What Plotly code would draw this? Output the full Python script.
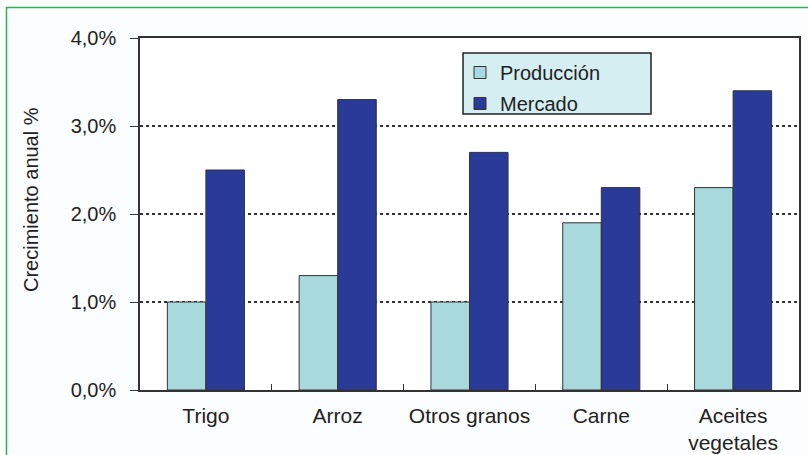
import plotly.graph_objects as go

categories = ["Trigo", "Arroz", "Otros granos", "Carne", "Aceites<br>vegetales"]
produccion = [1.0, 1.3, 1.0, 1.9, 2.3]
mercado = [2.5, 3.3, 2.7, 2.3, 3.4]
tick_vals = [0, 1, 2, 3, 4]
tick_text = ["0,0%", "1,0%", "2,0%", "3,0%", "4,0%"]

W, H = 808, 455
L, R, T, B = 140, 9, 38, 65
pw, ph = W - L - R, H - T - B

def px_x(x):
    return (x - L) / pw

def px_y(y):
    return (H - B - y) / ph

FONT = "Liberation Sans, Arial, sans-serif"
TXT = "#222222"

fig = go.Figure()
fig.add_trace(go.Bar(
    x=categories, y=produccion, name="Producción", legendgroup="a",
    marker=dict(color="#a8d9dc", line=dict(color="#333333", width=1)),
))
fig.add_trace(go.Bar(
    x=categories, y=mercado, name="Mercado", legendgroup="b",
    marker=dict(color="#2a3a98", line=dict(color="#333333", width=1)),
))

shapes = [
    dict(type="rect", xref="paper", yref="paper",
         x0=px_x(463), x1=px_x(651), y0=px_y(114), y1=px_y(53),
         fillcolor="#d5eef2", line=dict(color="#222222", width=1.5), layer="above"),
    dict(type="rect", xref="paper", yref="paper",
         x0=px_x(6.5), x1=px_x(815), y0=px_y(470), y1=px_y(7.5),
         fillcolor="rgba(0,0,0,0)", line=dict(color="#2fae55", width=1.5), layer="above"),
]

annotations = [
    dict(text="Crecimiento anual %", xref="paper", yref="paper",
         x=px_x(31), y=px_y(200), xanchor="center", yanchor="middle",
         textangle=-90, showarrow=False, font=dict(size=20, color=TXT)),
]

fig.update_layout(
    width=W, height=H,
    margin=dict(l=L, r=R, t=T, b=B),
    paper_bgcolor="#fcfdfe", plot_bgcolor="#ffffff",
    barmode="group", bargap=0.415, bargroupgap=0,
    font=dict(family=FONT, size=20, color=TXT),
    showlegend=True,
    legend=dict(x=px_x(460), y=px_y(53), xanchor="left", yanchor="top",
                bgcolor="rgba(0,0,0,0)", borderwidth=0, tracegroupgap=2,
                font=dict(size=20, color=TXT), traceorder="grouped"),
    shapes=shapes,
    annotations=annotations,
    xaxis=dict(showline=True, mirror=True, linecolor="#333333", linewidth=1.5,
               ticks="inside", tickson="boundaries", ticklen=6, tickcolor="#333333",
               ticklabelstandoff=6, showgrid=False, fixedrange=True,
               tickfont=dict(size=21, color=TXT)),
    yaxis=dict(range=[0, 4], tickvals=tick_vals, ticktext=tick_text,
               showline=True, mirror=True, linecolor="#333333", linewidth=1.5,
               ticks="outside", ticklen=8, tickcolor="#333333", ticklabelstandoff=10,
               showgrid=True, gridcolor="#333333", griddash="dot", gridwidth=1.5,
               zeroline=False, tickfont=dict(size=20, color=TXT), fixedrange=True),
)
fig.update_yaxes(automargin=False)
fig.update_xaxes(automargin=False)

fig.write_html(
    "out.html",
    config={"displayModeBar": False},
    post_script="document.body.style.margin='0';document.body.style.overflow='hidden';",
)
